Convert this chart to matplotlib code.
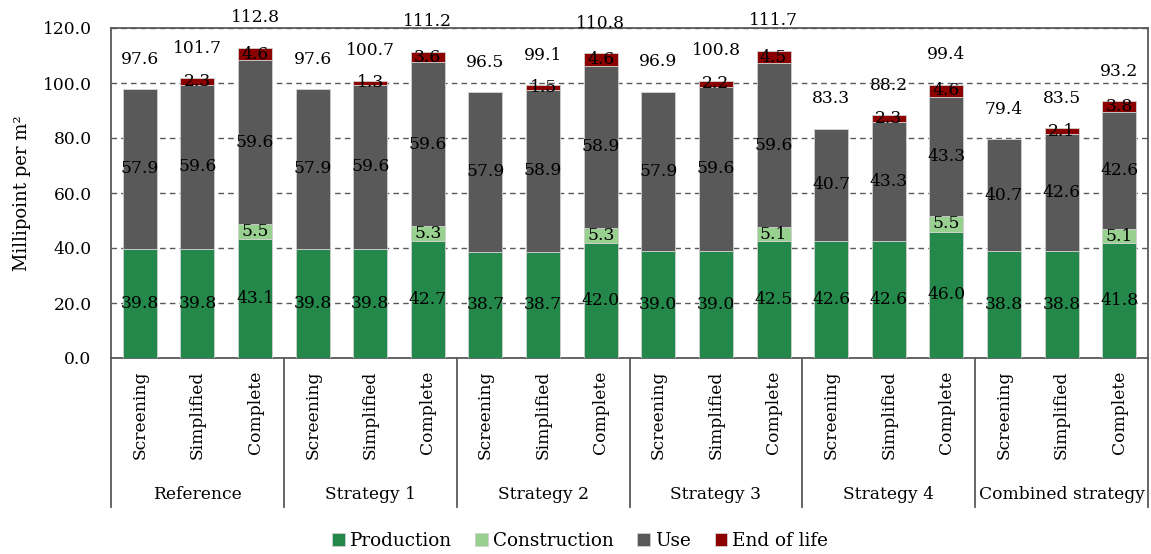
import numpy as np
import matplotlib
matplotlib.use("Agg")
import matplotlib.pyplot as plt
from matplotlib.lines import Line2D

plt.rcParams['font.family'] = ['DejaVu Serif']
plt.rcParams['font.size'] = 12.3

groups = ["Reference", "Strategy 1", "Strategy 2", "Strategy 3", "Strategy 4", "Combined strategy"]
methods = ["Screening", "Simplified", "Complete"]

production = [39.8, 39.8, 43.1, 39.8, 39.8, 42.7, 38.7, 38.7, 42.0,
              39.0, 39.0, 42.5, 42.6, 42.6, 46.0, 38.8, 38.8, 41.8]
construction = [0, 0, 5.5, 0, 0, 5.3, 0, 0, 5.3,
                0, 0, 5.1, 0, 0, 5.5, 0, 0, 5.1]
use = [57.9, 59.6, 59.6, 57.9, 59.6, 59.6, 57.9, 58.9, 58.9,
       57.9, 59.6, 59.6, 40.7, 43.3, 43.3, 40.7, 42.6, 42.6]
end_of_life = [0, 2.3, 4.6, 0, 1.3, 3.6, 0, 1.5, 4.6,
               0, 2.2, 4.5, 0, 2.3, 4.6, 0, 2.1, 3.8]
totals = [97.6, 101.7, 112.8, 97.6, 100.7, 111.2, 96.5, 99.1, 110.8,
          96.9, 100.8, 111.7, 83.3, 88.2, 99.4, 79.4, 83.5, 93.2]

series = [("Production", production, "#23884a"),
          ("Construction", construction, "#98d08f"),
          ("Use", use, "#595959"),
          ("End of life", end_of_life, "#8b0000")]

fig = plt.figure(figsize=(11.51, 5.54), dpi=100)
ax = fig.add_axes([111 / 1151, 1 - 358 / 554, 1037 / 1151, 330 / 554])

x = np.arange(len(production))
bottom = np.zeros(len(x))
for name, vals, col in series:
    vals = np.array(vals, dtype=float)
    ax.bar(x, vals, 0.59, bottom=bottom, color=col, edgecolor="#d0d0d0",
           linewidth=0.6, label=name, zorder=3)
    for xi, b, v in zip(x, bottom, vals):
        if v > 0:
            ax.text(xi, b + v / 2, f"{v:.1f}", ha="center", va="center", zorder=4)
    bottom += vals

for xi, t in zip(x, totals):
    ax.text(xi, t + 11, f"{t:.1f}", ha="center", va="center", zorder=4)

ax.set_xlim(-0.5, len(x) - 0.5)
ax.set_ylim(0, 120)
ax.set_yticks(np.arange(0, 121, 20))
ax.set_yticklabels([f"{v:.1f}" for v in np.arange(0, 121, 20)])
ax.yaxis.grid(True, linestyle=(0, (4, 3)), color="#595959", linewidth=1, zorder=0)
ax.tick_params(axis="y", length=0, pad=14)
ax.set_ylabel("Millipoint per m²", labelpad=8, fontsize=13)

ax.set_xticks(x)
ax.set_xticklabels(methods * len(groups), rotation=90, va="top")
ax.tick_params(axis="x", length=0, pad=9)

for s in ax.spines.values():
    s.set_color("#595959")
    s.set_linewidth(1.3)

trans = ax.get_xaxis_transform()
for gi, g in enumerate(groups):
    ax.text(gi * 3 + 1, -0.415, g, transform=trans, ha="center", va="center")
for k in range(len(groups) + 1):
    ax.add_line(Line2D([k * 3 - 0.5, k * 3 - 0.5], [0, -0.452], transform=trans,
                       color="#595959", linewidth=1.3, clip_on=False))

fig.legend(loc="center", bbox_to_anchor=(580 / 1151, 1 - 541 / 554), ncol=4, frameon=False,
           handlelength=0.7, handleheight=0.7, handletextpad=0.25, columnspacing=1.3,
           borderpad=0, fontsize=13.2)

fig.savefig("out.png", dpi=100)
